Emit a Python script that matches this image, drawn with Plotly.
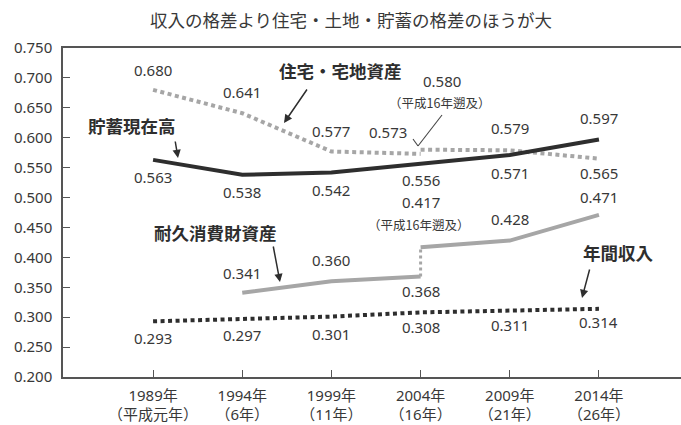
import plotly.graph_objects as go

# ---- data -------------------------------------------------------------
years = [1989, 1994, 1999, 2004, 2009, 2014]
year_labels = [
    "1989年<br>（平成元年）", "1994年<br>（6年）", "1999年<br>（11年）",
    "2004年<br>（16年）", "2009年<br>（21年）", "2014年<br>（26年）",
]

income = [0.293, 0.297, 0.301, 0.308, 0.311, 0.314]      # 年間収入
savings = [0.563, 0.538, 0.542, 0.556, 0.571, 0.597]     # 貯蓄現在高

housing_years_a = [1989, 1994, 1999, 2004]
housing_a = [0.680, 0.641, 0.577, 0.573]                 # 住宅・宅地資産
housing_years_b = [2004, 2009, 2014]
housing_b = [0.580, 0.579, 0.565]                        # 平成16年遡及

durable_years_a = [1994, 1999, 2004]
durable_a = [0.341, 0.360, 0.368]                        # 耐久消費財資産
durable_years_b = [2004, 2009, 2014]
durable_b = [0.417, 0.428, 0.471]                        # 平成16年遡及

y_ticks = [0.20 + 0.05 * i for i in range(12)]

# ---- geometry / style -------------------------------------------------
W, H = 681, 425
ML, MR, MT, MB = 63, 0, 48, 48
X_RANGE = [1983.95, 2018.6]
Y_RANGE = [0.2, 0.75]

DARK = "#2e2e2e"
GRAY = "#a6a6a6"
TEXT = "#383838"
NUM_FONT = "Noto Sans, Noto Sans CJK JP"
JP_FONT = "Noto Sans CJK JP"


def to_data(px, py):
    """Pixel position in the page -> data coordinates."""
    xd = X_RANGE[0] + (px - ML) / (W - ML - MR) * (X_RANGE[1] - X_RANGE[0])
    yd = Y_RANGE[1] - (py - MT) / (H - MT - MB) * (Y_RANGE[1] - Y_RANGE[0])
    return xd, yd


fig = go.Figure()

# gray series
fig.add_trace(go.Scatter(x=housing_years_a, y=housing_a, mode="lines",
                         line=dict(color=GRAY, width=4, dash="4px,3.5px")))
fig.add_trace(go.Scatter(x=housing_years_b, y=housing_b, mode="lines",
                         line=dict(color=GRAY, width=4, dash="4px,3.5px")))
fig.add_trace(go.Scatter(x=durable_years_a, y=durable_a, mode="lines",
                         line=dict(color=GRAY, width=4)))
fig.add_trace(go.Scatter(x=[durable_years_a[-1], durable_years_b[0]],
                         y=[durable_a[-1], durable_b[0]], mode="lines",
                         line=dict(color=GRAY, width=3, dash="3px,3px")))
fig.add_trace(go.Scatter(x=durable_years_b, y=durable_b, mode="lines",
                         line=dict(color=GRAY, width=4)))

# dark series
fig.add_trace(go.Scatter(x=years, y=savings, mode="lines",
                         line=dict(color=DARK, width=4)))
fig.add_trace(go.Scatter(x=years, y=income, mode="lines",
                         line=dict(color=DARK, width=4, dash="4px,3.5px")))

annotations = []


def value_label(x, v, dy, dx=0):
    annotations.append(dict(x=x, y=v, xref="x", yref="y", text=f"{v:.3f}",
                            showarrow=False, yshift=dy, xshift=dx,
                            font=dict(family=NUM_FONT, size=15, color=TEXT)))


def note_label(x, v, dy, dx=0):
    annotations.append(dict(x=x, y=v, xref="x", yref="y", text="（平成16年遡及）",
                            showarrow=False, yshift=dy, xshift=dx,
                            font=dict(family=JP_FONT, size=12.5, color=TEXT)))


# value labels: pixel offsets above (+) / below (-) each point
housing_a_dy = [20, 21, 20, 22]
housing_a_dx = [0, 0, 0, -33]
for x, v, dy, dx in zip(housing_years_a, housing_a, housing_a_dy, housing_a_dx):
    value_label(x, v, dy, dx)
housing_b_dy = [69, 22, -14]
housing_b_dx = [21, 0, 0]
for x, v, dy, dx in zip(housing_years_b, housing_b, housing_b_dy, housing_b_dx):
    value_label(x, v, dy, dx)
note_label(housing_years_b[0], housing_b[0], 47, 19)

savings_dy = [-17, -17, -18, -16, -18, 22]
for x, v, dy in zip(years, savings, savings_dy):
    value_label(x, v, dy)

durable_a_dy = [20, 21, -14]
for x, v, dy in zip(durable_years_a, durable_a, durable_a_dy):
    value_label(x, v, dy)
durable_b_dy = [45, 22, 18]
for x, v, dy in zip(durable_years_b, durable_b, durable_b_dy):
    value_label(x, v, dy)
note_label(durable_years_b[0], durable_b[0], 23, -2)

income_dy = [-17, -16, -17, -15, -14, -13]
for x, v, dy in zip(years, income, income_dy):
    value_label(x, v, dy)

# series names with pointer arrows
series_names = [
    ("貯蓄現在高", (132, 125), (175, 140), (178, 158)),
    ("住宅・宅地資産", (340, 70), (308, 88), (284, 123)),
    ("耐久消費財資産", (215, 232), (273, 245), (280, 282)),
    ("年間収入", (618, 252), (590, 268), (582, 298)),
]
for name, pos, tail, head in series_names:
    nx, ny = to_data(*pos)
    annotations.append(dict(x=nx, y=ny, xref="x", yref="y", text=name,
                            showarrow=False,
                            font=dict(family=JP_FONT, size=17.5, color=DARK,
                                      weight="bold")))
    tx, ty = to_data(*tail)
    hx, hy = to_data(*head)
    annotations.append(dict(x=hx, y=hy, ax=tx, ay=ty, xref="x", yref="y",
                            axref="x", ayref="y", text="", showarrow=True,
                            arrowhead=2, arrowsize=1.1, arrowwidth=1.5,
                            arrowcolor=DARK))

# check-mark pointer for the 0.580 note
shapes = []
for p0, p1 in [((442, 115), (418, 146)), ((413, 139), (418, 146))]:
    x0, y0 = to_data(*p0)
    x1, y1 = to_data(*p1)
    shapes.append(dict(type="line", xref="x", yref="y", x0=x0, y0=y0,
                       x1=x1, y1=y1, line=dict(color="#444444", width=1.1)))

fig.update_layout(
    width=W, height=H,
    margin=dict(l=ML, r=MR, t=MT, b=MB),
    paper_bgcolor="white", plot_bgcolor="white",
    showlegend=False,
    title=dict(text="収入の格差より住宅・土地・貯蓄の格差のほうが大",
               xref="container", yref="container", x=351 / W, y=1 - 21 / H,
               xanchor="center", yanchor="middle",
               font=dict(family=JP_FONT, size=17.5, color=TEXT)),
    annotations=annotations,
    shapes=shapes,
    xaxis=dict(range=X_RANGE, tickvals=years, ticktext=year_labels,
               showgrid=False, zeroline=False, showline=True, mirror=True,
               linecolor="#555555", linewidth=1.5,
               ticks="inside", ticklen=7, tickwidth=1.2, tickcolor="#555555",
               ticklabelstandoff=4,
               tickfont=dict(family=NUM_FONT, size=15, color=TEXT)),
    yaxis=dict(range=Y_RANGE, tickvals=y_ticks, tickformat=".3f",
               showgrid=False, zeroline=False, showline=True,
               linecolor="#555555", linewidth=1.5,
               ticks="inside", ticklen=7, tickwidth=1.2, tickcolor="#555555",
               ticklabelstandoff=6,
               tickfont=dict(family=NUM_FONT, size=15, color=TEXT)),
)

fig.write_html("out.html")
